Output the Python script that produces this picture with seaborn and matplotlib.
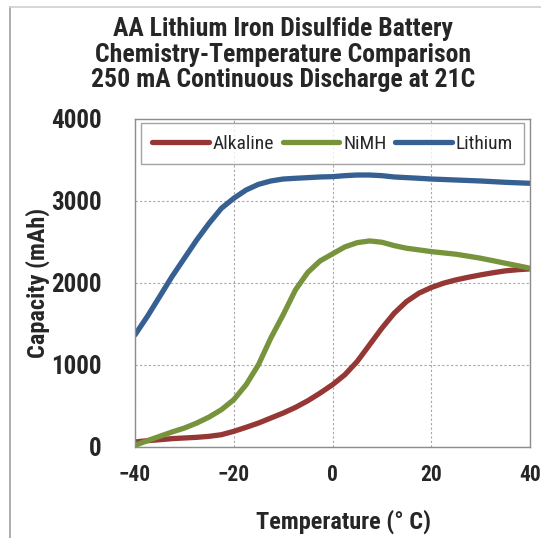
import matplotlib

matplotlib.use("Agg")
import matplotlib.pyplot as plt
from matplotlib import font_manager
from matplotlib.lines import Line2D
import pandas as pd
import seaborn as sns

# values, every 2.5 degrees C
temperature = [-40, -37.5, -35, -32.5, -30, -27.5, -25, -22.5, -20, -17.5, -15, -12.5, -10, -7.5, -5, -2.5,
               0, 2.5, 5, 7.5, 10, 12.5, 15, 17.5, 20, 22.5, 25, 27.5, 30, 32.5, 35, 37.5, 40]
alkaline = [61, 77, 89, 102, 110, 118, 130, 150, 191, 240, 292, 353, 414, 483, 564, 658,
            760, 881, 1043, 1246, 1449, 1632, 1774, 1876, 1945, 1998, 2038, 2070, 2099, 2125, 2148, 2162, 2172]
nimh = [20, 77, 130, 183, 231, 292, 365, 455, 577, 759, 1003, 1328, 1612, 1916, 2130, 2270,
        2355, 2440, 2492, 2513, 2497, 2456, 2424, 2404, 2383, 2367, 2351, 2327, 2302, 2272, 2241, 2211, 2180]
lithium = [1368, 1592, 1835, 2079, 2302, 2525, 2728, 2911, 3033, 3134, 3203, 3244, 3268, 3277, 3285, 3293,
           3297, 3309, 3317, 3317, 3309, 3293, 3285, 3277, 3268, 3262, 3256, 3250, 3244, 3236, 3228, 3222, 3216]

series_names = ["Alkaline", "NiMH", "Lithium"]
palette = {"Alkaline": "#953735", "NiMH": "#77933C", "Lithium": "#376092"}

title = ("AA Lithium Iron Disulfide Battery\n"
         "Chemistry-Temperature Comparison\n"
         "250 mA Continuous Discharge at 21C")

df = pd.DataFrame({"Temperature": temperature, "Alkaline": alkaline, "NiMH": nimh, "Lithium": lithium})
long_df = df.melt(id_vars="Temperature", var_name="Chemistry", value_name="Capacity")

sns.set_theme(style="white")
installed = {f.name for f in font_manager.fontManager.ttflist}
family = next((f for f in ("Liberation Sans Narrow", "Roboto Condensed", "Liberation Sans") if f in installed), "DejaVu Sans")
plt.rcParams["font.family"] = [family, "DejaVu Sans"]
plt.rcParams["lines.solid_joinstyle"] = "round"
plt.rcParams["lines.solid_capstyle"] = "round"

fig = plt.figure(figsize=(5.41, 5.38), dpi=100)
W, H = 541, 538
ax = fig.add_axes([135 / W, 1 - 447 / H, (530 - 135) / W, (447 - 119) / H])

sns.lineplot(data=long_df, x="Temperature", y="Capacity", hue="Chemistry", hue_order=series_names,
             palette=palette, linewidth=3.8, ax=ax, legend=False)

ax.set_xlim(-40, 40)
ax.set_ylim(0, 4000)
ax.set_xticks([-40, -20, 0, 20, 40])
ax.set_yticks([0, 1000, 2000, 3000, 4000])
ax.tick_params(axis="x", length=0, pad=12, labelsize=15.5)
ax.tick_params(axis="y", length=0, pad=24, labelsize=18)
for lab in ax.get_xticklabels() + ax.get_yticklabels():
    lab.set_fontweight("bold")
ax.grid(True, color="#a6a6a6", linestyle=(0, (2, 2)), linewidth=0.8)
for sp in ax.spines.values():
    sp.set_color("#8c8c8c")
    sp.set_linewidth(1.0)

ax.set_xlabel("Temperature (° C)", fontsize=17.5, fontweight="bold")
ax.set_ylabel("Capacity (mAh)", fontsize=17.5, fontweight="bold")
ax.xaxis.set_label_coords((343 - 135) / 395, -(510 - 447) / 328)
ax.yaxis.set_label_coords(-(135 - 50) / 395, 0.5)

handles = [Line2D([], [], color=palette[n], linewidth=3.8) for n in series_names]
leg = ax.legend(handles, series_names, loc="upper center", bbox_to_anchor=(0.5, 1 - 4 / 328), ncol=3,
                frameon=True, fancybox=False, borderaxespad=0, handlelength=2.9, columnspacing=0.45,
                handletextpad=0.2, fontsize=14, borderpad=0.6)
leg.get_frame().set_edgecolor("#8c8c8c")
leg.get_frame().set_linewidth(1.0)

fig.text(283 / W, 1 - 17 / H, title, ha="center", va="top", fontsize=18.5, fontweight="bold",
         linespacing=1.08)

# chart-area border (left and top edges visible in the reference)
fig.add_artist(Line2D([10 / W, 10 / W], [0, 1 - 7 / H], color="#a0a0a0", linewidth=1.2, transform=fig.transFigure))
fig.add_artist(Line2D([10 / W, 1], [1 - 7 / H, 1 - 7 / H], color="#d0d0d0", linewidth=1.2, transform=fig.transFigure))

fig.savefig("out.png", dpi=100)
